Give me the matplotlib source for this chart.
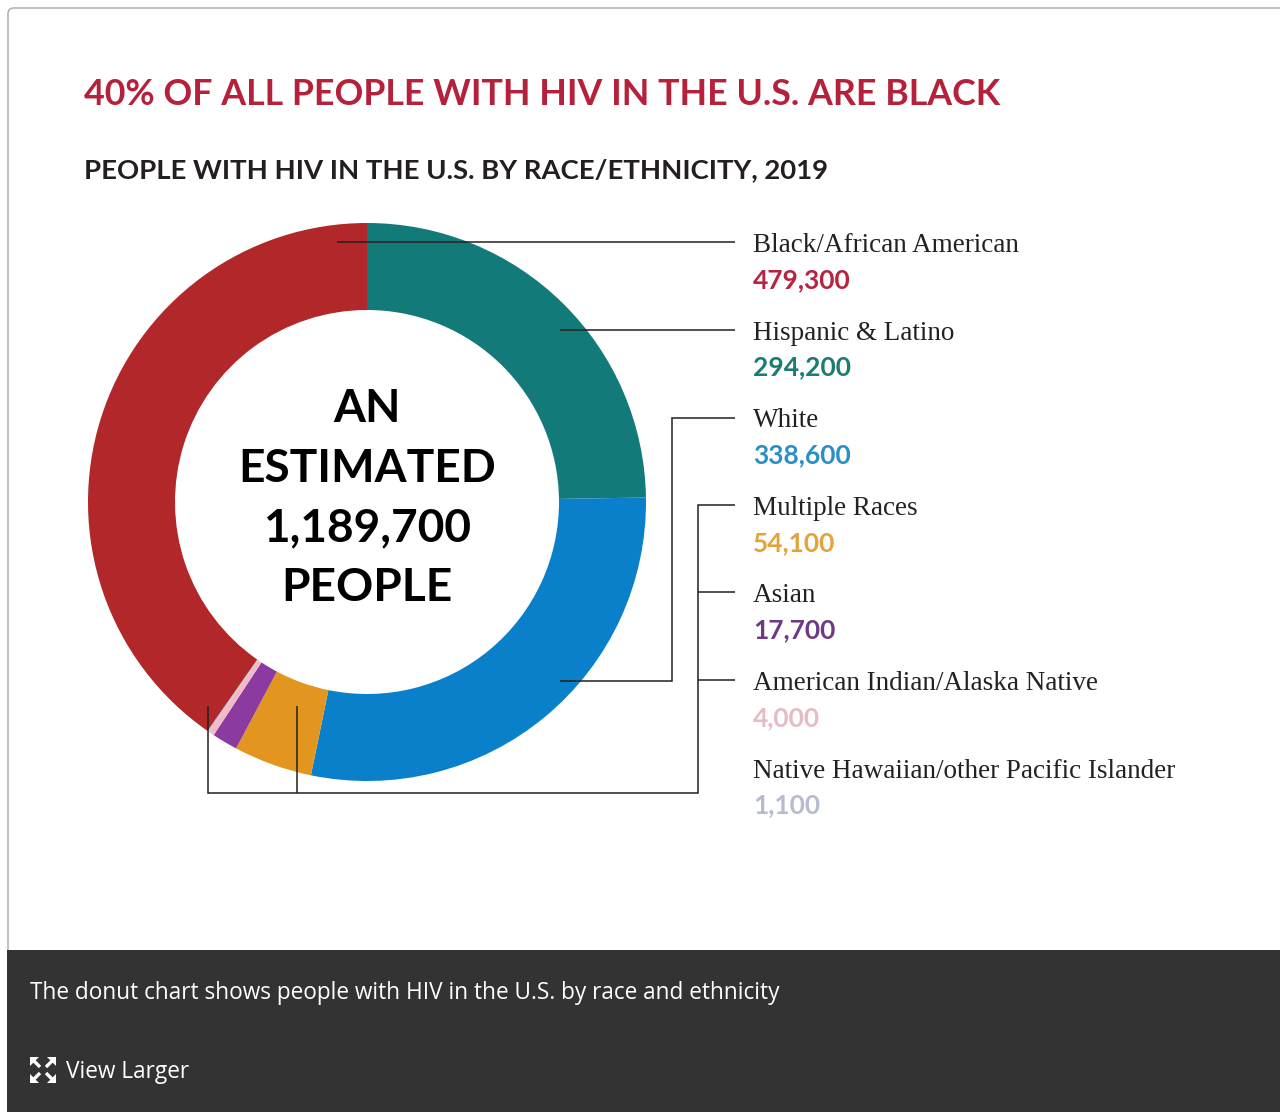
import matplotlib.pyplot as plt
from matplotlib.patches import FancyBboxPatch, Rectangle, Polygon

# people living with HIV in the U.S., 2019
groups = ["Black/African American", "Hispanic & Latino", "White",
          "Multiple Races", "Asian", "American Indian/Alaska Native",
          "Native Hawaiian/other Pacific Islander"]
counts = [479300, 294200, 338600, 54100, 17700, 4000, 1100]
ring_colors = ["#b1272a", "#127a79", "#0a80cb", "#e3961f", "#8b3aa0", "#f3b9c6", "#c4c6dd"]
value_colors = ["#b8233f", "#1b7c70", "#2a8fc6", "#e3a33a", "#6e3a86", "#e6bcc4", "#b7bbcf"]
total_text = "1,189,700"

# ring goes clockwise from 12 o'clock, Black closes the circle
ring_order = [1, 2, 3, 4, 5, 6, 0]

W, H = 1280, 1112
fig = plt.figure(figsize=(W / 100, H / 100), dpi=100)
ax = fig.add_axes([0, 0, 1, 1])
renderer = fig.canvas.get_renderer()

CAP = 0.72 * 100 / 72  # Lato cap height in px per point


def fit(t, width):
    # rescale a text so it spans the given width in px
    w = t.get_window_extent(renderer).width
    t.set_fontsize(t.get_fontsize() * width / w)
    return t.get_fontsize()


# card outline and caption bar
ax.add_patch(FancyBboxPatch((8, 8), W + 40, 952, boxstyle="round,pad=0,rounding_size=6",
                            fc="white", ec="#b5b5b5", lw=1.2))
ax.add_patch(Rectangle((7, 950), W, H - 950, fc="#333333", ec="none"))

cx, cy, r_out, ring_w = 367, 502, 279, 87
ax.pie([counts[i] for i in ring_order], colors=[ring_colors[i] for i in ring_order],
       startangle=-90, counterclock=True, radius=r_out, center=(cx, cy),
       wedgeprops=dict(width=ring_w, linewidth=0), frame=True)
ax.set_xlim(0, W)
ax.set_ylim(H, 0)
ax.axis("off")

# leader lines
ink = "#231f20"
leaders = [
    [(337, 242), (735, 242)],
    [(560, 330), (735, 330)],
    [(560, 681), (672, 681), (672, 418), (735, 418)],
    [(297, 706), (297, 793)],
    [(208, 706), (208, 793), (698, 793), (698, 505), (735, 505)],
    [(698, 592), (735, 592)],
    [(698, 680), (735, 680)],
]
for pts in leaders:
    xs, ys = zip(*pts)
    ax.plot(xs, ys, color=ink, lw=1.1, solid_capstyle="butt", solid_joinstyle="miter")

# labels down the right side
for k, (name, n) in enumerate(zip(groups, counts)):
    yb = 252 + 87.6 * k
    ax.text(753, yb, name, family="Liberation Serif", fontsize=19.5, color="#222222",
            va="baseline", ha="left")
    ax.text(753, yb + 36, f"{n:,}", family="Lato", fontweight="bold", fontsize=19,
            color=value_colors[k], va="baseline", ha="left")

# titles: fitted to width, then centred on the cap line
for txt, x0, x1, yc, col in [
        ("40% OF ALL PEOPLE WITH HIV IN THE U.S. ARE BLACK", 84, 1000, 92, "#b5213a"),
        ("PEOPLE WITH HIV IN THE U.S. BY RACE/ETHNICITY, 2019", 84, 826, 168.5, "#231f20")]:
    t = ax.text(x0, yc, txt, family="Lato", fontweight="bold", fontsize=24,
                color=col, va="baseline")
    fs = fit(t, x1 - x0)
    t.set_y(yc + fs * CAP / 2)

# centre of the ring
ref = ax.text(cx, 0, "ESTIMATED", family="Lato", fontweight="bold", fontsize=32)
fs_c = fit(ref, 243) * 1.06
ref.remove()
for line, yc in zip(["AN", "ESTIMATED", total_text, "PEOPLE"], [405, 465.5, 524.5, 584]):
    ax.text(cx, yc + fs_c * CAP / 2, line, family="Lato", fontweight="bold", fontsize=fs_c,
            color="black", ha="center", va="baseline")

# caption bar
ax.text(30, 999, "The donut chart shows people with HIV in the U.S. by race and ethnicity",
        family="Open Sans", fontsize=16.25, color="white", va="baseline")
ax.text(66, 1078, "View Larger", family="Open Sans", fontsize=16.25, color="white",
        va="baseline")

# expand icon: four arrows pointing to the corners
ic_x, ic_y, d, hd = 43, 1070, 13, 9
for sx in (-1, 1):
    for sy in (-1, 1):
        tip = (ic_x + sx * d, ic_y + sy * d)
        ax.plot([ic_x + sx * 3, tip[0] - sx * 3], [ic_y + sy * 3, tip[1] - sy * 3],
                color="white", lw=2.4, solid_capstyle="butt")
        ax.add_patch(Polygon([tip, (tip[0] - sx * hd, tip[1]), (tip[0], tip[1] - sy * hd)],
                             closed=True, fc="white", ec="none"))

fig.savefig("out.png", dpi=100)
